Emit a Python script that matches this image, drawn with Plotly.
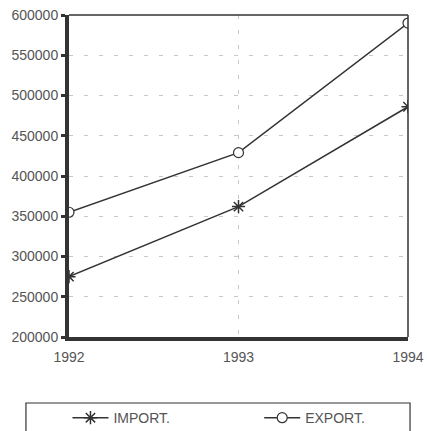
import plotly.graph_objects as go

years = [1992, 1993, 1994]
import_vals = [275000, 362000, 486000]
export_vals = [355000, 429000, 590000]
y_ticks = [200000, 250000, 300000, 350000, 400000, 450000, 500000, 550000, 600000]

ink = "#333333"
txt = "#555555"
fnt = dict(family="Liberation Sans, Arial, sans-serif", size=14, color=txt)

fig = go.Figure()
fig.add_trace(go.Scatter(
    x=years, y=import_vals, name="IMPORT.", mode="lines+markers",
    line=dict(color=ink, width=1.5),
    marker=dict(symbol="asterisk-open", size=11, color=ink, line=dict(color=ink, width=1.5)),
    legend="legend",
))
fig.add_trace(go.Scatter(
    x=years, y=export_vals, name="EXPORT.", mode="lines+markers",
    line=dict(color=ink, width=1.5),
    marker=dict(symbol="circle", size=10, color="white", line=dict(color=ink, width=1.2)),
    legend="legend2",
))

leg_common = dict(
    xref="container", yref="container", xanchor="left", yanchor="middle",
    y=0.030, font=dict(family="Liberation Sans, Arial, sans-serif", size=14, color=txt),
    bgcolor="rgba(0,0,0,0)", itemwidth=36,
)

fig.update_layout(
    width=427, height=431,
    margin=dict(l=69, r=19, t=15, b=94, autoexpand=False),
    paper_bgcolor="white", plot_bgcolor="white",
    font=fnt,
    showlegend=True,
    legend=dict(x=0.158, **leg_common),
    legend2=dict(x=0.607, **leg_common),
    xaxis=dict(
        range=[1992, 1994], tickvals=years, ticktext=[str(y) for y in years],
        showline=True, linecolor=ink, linewidth=4,
        showgrid=True, gridcolor="#c8c8c8", griddash="4px,11px", gridwidth=1,
        ticks="", zeroline=False, automargin=False, ticklabelstandoff=4,
    ),
    yaxis=dict(
        range=[200000, 600000], tickvals=y_ticks, ticktext=[str(v) for v in y_ticks],
        showline=True, linecolor=ink, linewidth=4,
        showgrid=True, gridcolor="#c8c8c8", griddash="4px,11px", gridwidth=1,
        ticks="outside", ticklen=4, tickwidth=3, tickcolor=ink,
        zeroline=False, automargin=False,
    ),
    shapes=[
        dict(type="line", xref="paper", yref="paper", x0=0, x1=1, y0=1, y1=1,
             line=dict(color=ink, width=1.5)),
        dict(type="line", xref="paper", yref="paper", x0=1, x1=1, y0=0, y1=1,
             line=dict(color=ink, width=1.5)),
        dict(type="rect", xref="paper", yref="paper", x0=-0.127, x1=1.006,
             y0=-0.36, y1=-0.205, line=dict(color=ink, width=1.2)),
    ],
)

fig.write_html("out.html", config={"displayModeBar": False})

with open("out.html", "r", encoding="utf-8") as f:
    html = f.read()
html = html.replace("<head>", "<head><style>html,body{margin:0;padding:0;overflow:hidden;}</style>", 1)
with open("out.html", "w", encoding="utf-8") as f:
    f.write(html)
